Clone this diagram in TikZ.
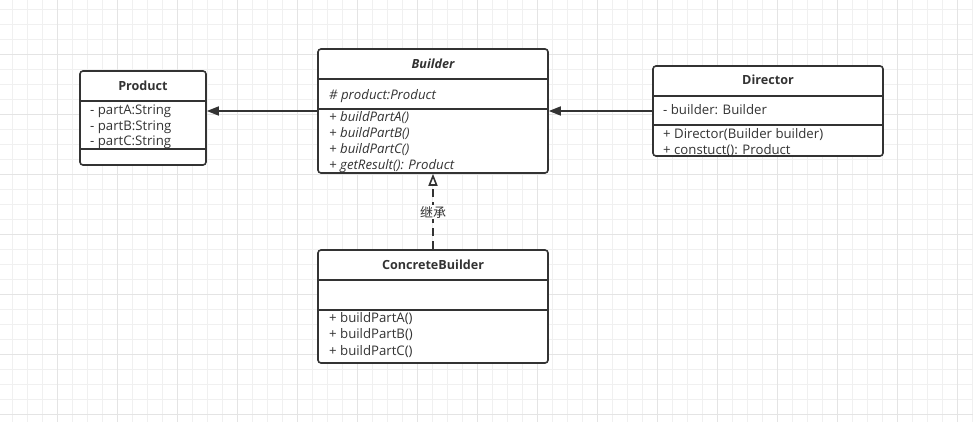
\documentclass[tikz,border=0pt]{standalone}
\usepackage{fontspec}
\setmainfont{Open Sans}
\newfontfamily\cjk{Noto Sans CJK SC}
\usetikzlibrary{arrows.meta}
\definecolor{ink}{HTML}{333333}
\definecolor{gminor}{HTML}{F0F0F0}
\definecolor{gmajor}{HTML}{E4E4E4}
\tikzset{
  classbox/.style={draw=ink, line width=1.6pt, rounded corners=3pt, fill=white, inner sep=0pt},
  divider/.style={draw=ink, line width=1.6pt},
  title/.style={font=\fontsize{12.6}{14}\selectfont\bfseries, text=ink, inner sep=0pt, anchor=base},
  member/.style={font=\fontsize{13.2}{14}\selectfont, text=ink, anchor=base west, inner sep=0pt},
  imember/.style={member, font=\fontsize{13.2}{14}\selectfont\itshape},
  assoc/.style={draw=ink, line width=1.6pt, -{Triangle[length=12pt,width=9pt]}},
  realize/.style={draw=ink, line width=1.6pt, dash pattern=on 8pt off 5pt, -{Triangle[open,length=12pt,width=9pt,fill=white]}},
  lbl/.style={font=\cjk\fontsize{13}{14}\selectfont, text=ink, fill=white, inner sep=1.5pt}
}
\begin{document}
\begin{tikzpicture}[x=1pt,y=-1pt]
\useasboundingbox (0,0) rectangle (973,422);
\fill[white] (0,0) rectangle (973,422);
% grid
\foreach \i in {0,...,64} {\draw[gminor, line width=0.8pt] ({12.3+15*\i},0) -- ++(0,422);}
\foreach \i in {0,...,27} {\draw[gminor, line width=0.8pt] (0,{9.3+15*\i}) -- ++(973,0);}
\foreach \i in {-1,...,15} {\draw[gmajor, line width=0.8pt] ({57.3+60*\i},0) -- ++(0,422);}
\foreach \i in {-1,...,6} {\draw[gmajor, line width=0.8pt] (0,{54.3+60*\i}) -- ++(973,0);}

% Product
\node[classbox, minimum width=126pt, minimum height=94pt] (product) at (143,118) {};
\draw[divider] (80,101) -- (206,101);
\draw[divider] (80,149) -- (206,149);
\node[title] (productT) at (143,90.7) {Product};
\node[member] (pa) at (90,115) {- partA:String};
\node[member] (pb) at (90,130.7) {- partB:String};
\node[member] (pc) at (90,146) {- partC:String};

% Builder
\node[classbox, minimum width=230pt, minimum height=124pt] (builder) at (433,111) {};
\draw[divider] (318,79) -- (548,79);
\draw[divider] (318,109) -- (548,109);
\node[title, font=\fontsize{12.6}{14}\selectfont\bfseries\itshape] (builderT) at (433,68.3) {Builder};
\node[imember] (bp) at (329,99.3) {\# product:Product};
\node[imember] (b1) at (329,121.7) {+ buildPartA()};
\node[imember] (b2) at (329,137.3) {+ buildPartB()};
\node[imember] (b3) at (329,153.3) {+ buildPartC()};
\node[imember] (b4) at (329,169.3) {+ getResult(): Product};

% Director
\node[classbox, minimum width=230pt, minimum height=90pt] (director) at (768,111) {};
\draw[divider] (653,96) -- (883,96);
\draw[divider] (653,125) -- (883,125);
\node[title] (directorT) at (768,85) {Director};
\node[member] (da) at (663,114.3) {- builder: Builder};
\node[member] (d1) at (663,138.3) {+ Director(Builder builder)};
\node[member] (d2) at (663,154) {+ constuct(): Product};

% ConcreteBuilder
\node[classbox, minimum width=230pt, minimum height=113pt] (cb) at (433,306.5) {};
\draw[divider] (318,280) -- (548,280);
\draw[divider] (318,310) -- (548,310);
\node[title] (cbT) at (433,269.3) {ConcreteBuilder};
\node[member] (c1) at (329,322.3) {+ buildPartA()};
\node[member] (c2) at (329,338.7) {+ buildPartB()};
\node[member] (c3) at (329,355) {+ buildPartC()};

% connectors
\draw[assoc] (builder.west) -- (product.east |- builder.west);
\draw[assoc] (director.west) -- (builder.east);
\draw[realize] (cb.north) -- (builder.south);
\node[lbl] (inherit) at (433,212) {继承};
\end{tikzpicture}
\end{document}
